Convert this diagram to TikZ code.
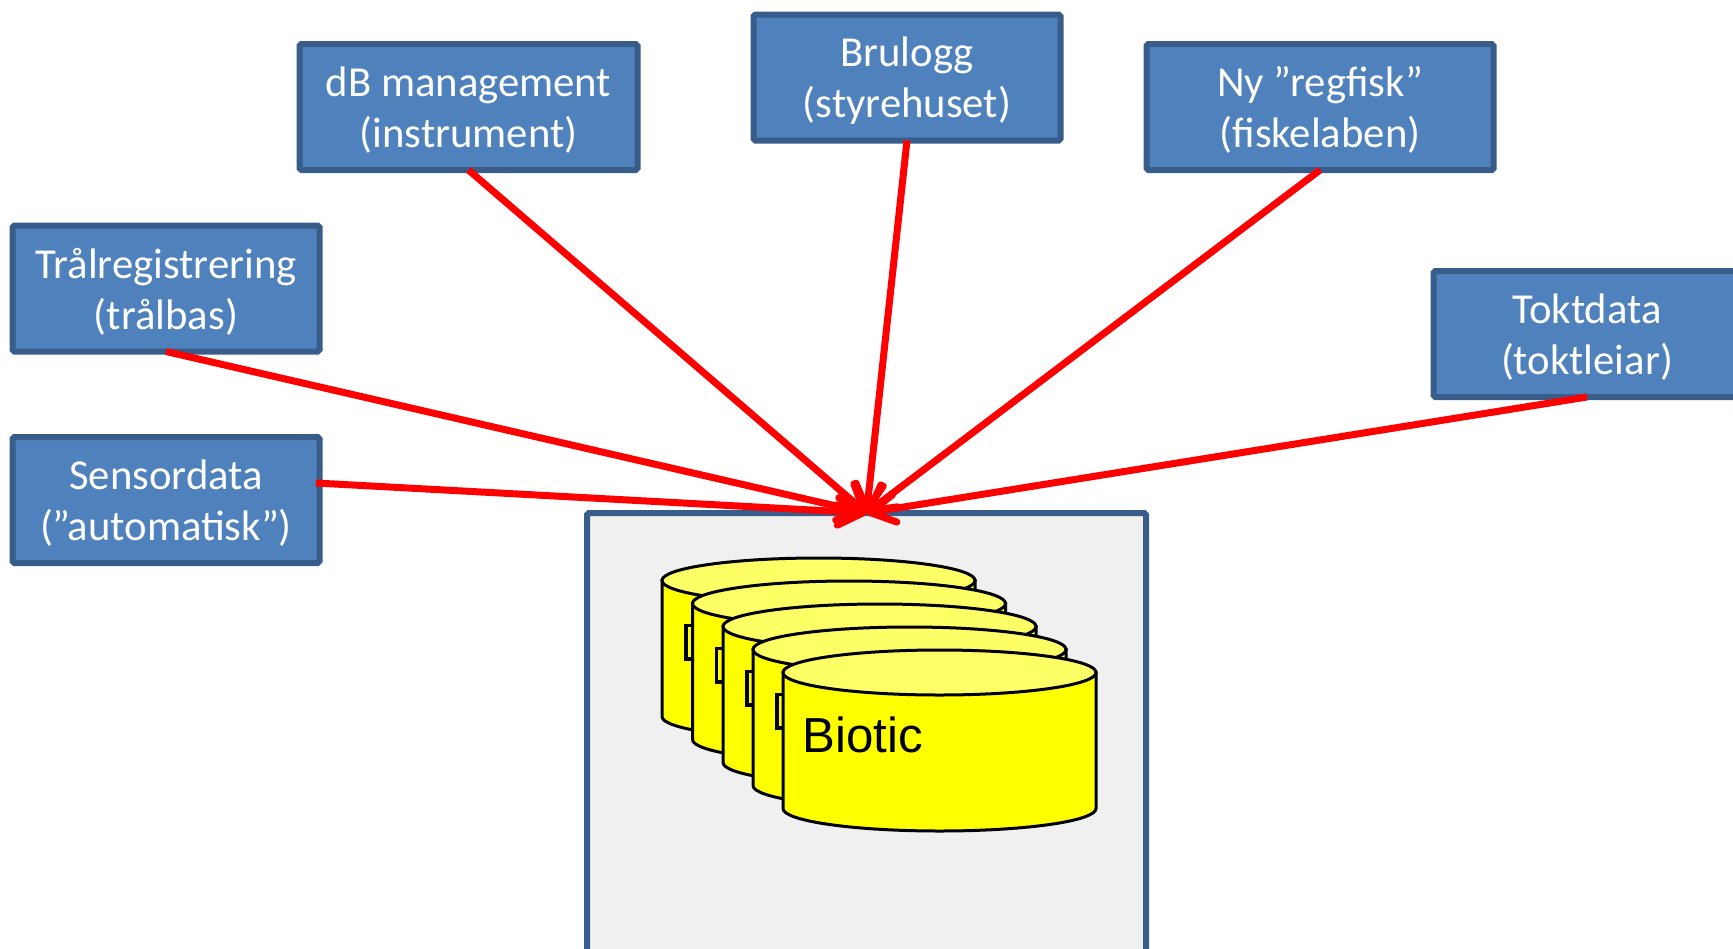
\documentclass[tikz,border=0pt]{standalone}
\usepackage{fontspec}
\setmainfont{Carlito}
\newfontfamily\arialfont{Liberation Sans}
\usetikzlibrary{arrows.meta}

\definecolor{boxfill}{HTML}{4F81BD}
\definecolor{boxline}{HTML}{385D8A}
\definecolor{drumfill}{HTML}{FFFF00}
\definecolor{topfill}{HTML}{FFFF66}

\tikzset{
	source/.style = {draw = boxline, fill = boxfill, line width = 0.12cm, rounded corners = 1pt, outer sep = 0, text = white, align = center, minimum height = 2.52cm, text depth = -1.5pt, font = \fontsize{24.3}{29}\selectfont},
	feed/.style = {red, line width = 0.14cm, ->},
	pics/drum/.style = {code = {
		\draw [fill = drumfill, line width = 0.06cm] (-3.13, 1.36) -- (-3.13, -1.36) arc (180 : 360 : 3.13 and 0.45) -- (3.13, 1.36) -- cycle;
		\draw [fill = topfill, line width = 0.06cm] (0, 1.36) ellipse (3.13 and 0.45);
	}}
}

\begin{document}
\begin{tikzpicture}[> = {Straight Barb[length=0.5cm, width=0.55cm, round]}]

	\path [use as bounding box, clip] (0, 0) rectangle (34.66, -18.96);

	% Grey frame
	
	\node (frame) [draw = boxline, fill = black!6, line width = 0.12cm, rounded corners = 1pt, outer sep = 0, minimum width = 11.18cm, minimum height = 9.74cm] at (17.33, -15.13) {};
	
	% Stack of cylinders
	
	\foreach \i/\cx/\cy in {1/16.37/-12.97, 2/16.98/-13.43, 3/17.59/-13.89, 4/18.19/-14.35} {
		\pic at (\cx, \cy) {drum};
		\draw [line width = 0.07cm] (\cx - 2.65, \cy + 0.46) rectangle (\cx - 2.25, \cy - 0.21);
	}
	\pic at (18.79, -14.81) {drum};
	\node (biotic) [anchor = base west, inner sep = 0, font = \arialfont\fontsize{28}{34}\selectfont] at (16.05, -15.04) {Biotic};
	
	% Source boxes
	
	\node (trawl) [source, minimum width = 6.14cm] at (3.32, -5.77) {Trålregistrering\\(trålbas)};
	\node (sensor) [source, minimum width = 6.14cm] at (3.32, -10) {Sensordata\\(”automatisk”)};
	\node (dbman) [source, minimum width = 6.76cm] at (9.37, -2.14) {dB management\\(instrument)};
	\node (bridge) [source, minimum width = 6.14cm] at (18.14, -1.55) {Brulogg\\(styrehuset)};
	\node (regfisk) [source, minimum width = 6.94cm] at (26.4, -2.14) {Ny ”regfisk”\\(fiskelaben)};
	\node (cruise) [source, minimum width = 6.14cm] at (31.74, -6.68) {Toktdata\\(toktleiar)};
	
	% Red connectors
	
	\coordinate (sensorout) at (6.32, -9.66);
	\draw [feed] (sensorout) -- (frame.north);
	\draw [feed] (trawl.south) -- (frame.north);
	\draw [feed] (dbman.south) -- (frame.north);
	\draw [feed] (bridge.south) -- (frame.north);
	\draw [feed] (regfisk.south) -- (frame.north);
	\draw [feed] (cruise.south) -- (frame.north);
	
\end{tikzpicture}
\end{document}
